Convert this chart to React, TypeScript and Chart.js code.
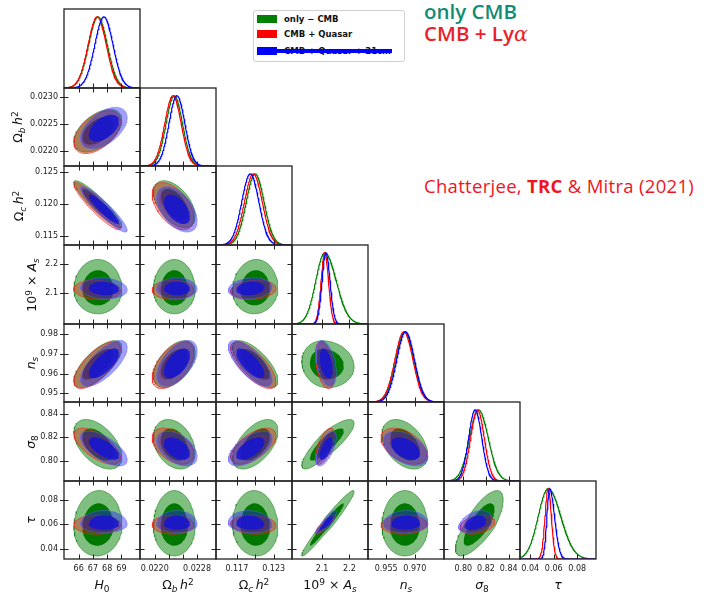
import React, { useEffect, useRef } from 'react';
import { Chart, registerables } from 'chart.js';

Chart.register(...registerables);

// ---------------- data ----------------
// parameter order: H0, Omega_b h^2, Omega_c h^2, 10^9 A_s, n_s, sigma_8, tau
const AXIS_MIN = [64.97, 0.02172, 0.1136, 1.99, 0.9455, 0.783, 0.0313];
const AXIS_MAX = [70.3, 0.02316, 0.126, 2.268, 0.9853, 0.85, 0.096];

const X_TICKS = [
  [66, 67, 68, 69],
  [0.022, 0.022267, 0.022533, 0.0228],
  [0.117, 0.12, 0.123],
  [2.1, 2.2],
  [0.955, 0.97],
  [0.8, 0.82, 0.84],
  [0.04, 0.06, 0.08],
];
const X_TICK_LABELS = [
  ['66', '67', '68', '69'],
  ['0.0220', '', '', '0.0228'],
  ['0.117', '', '0.123'],
  ['2.1', '2.2'],
  ['0.955', '0.970'],
  ['0.80', '0.82', '0.84'],
  ['0.04', '0.06', '0.08'],
];
const Y_TICKS = [
  [],
  [0.022, 0.0225, 0.023],
  [0.115, 0.12, 0.125],
  [2.1, 2.2],
  [0.95, 0.96, 0.97, 0.98],
  [0.8, 0.82, 0.84],
  [0.04, 0.06, 0.08],
];
const Y_TICK_LABELS = [
  [],
  ['0.0220', '0.0225', '0.0230'],
  ['0.115', '0.120', '0.125'],
  ['2.1', '2.2'],
  ['0.95', '0.96', '0.97', '0.98'],
  ['0.80', '0.82', '0.84'],
  ['0.04', '0.06', '0.08'],
];

const SERIES_LABELS = ['only \u2212 CMB', 'CMB + Quasar', 'CMB + Quasar + 21cm'];

// peak positions and lower / upper widths of each marginal
const GREEN_MEAN = [67.35, 0.02237, 0.12, 2.11, 0.9648, 0.8135, 0.058];
const GREEN_SIG_LO = [0.66, 0.000155, 0.00145, 0.033, 0.0047, 0.008, 0.0095];
const GREEN_SIG_HI = [0.66, 0.000155, 0.00145, 0.042, 0.0047, 0.0085, 0.0118];

const RED_MEAN = [67.3, 0.022345, 0.1197, 2.11, 0.9643, 0.8125, 0.0598];
const RED_SIG_LO = [0.64, 0.000155, 0.00145, 0.0135, 0.0047, 0.006, 0.0031];
const RED_SIG_HI = [0.64, 0.000155, 0.00145, 0.0135, 0.0047, 0.006, 0.0031];

const BLUE_MEAN = [67.77, 0.02242, 0.1192, 2.114, 0.9652, 0.8105, 0.06];
const BLUE_SIG_LO = [0.64, 0.00015, 0.0014, 0.014, 0.0046, 0.0058, 0.0027];
const BLUE_SIG_HI = [0.64, 0.00015, 0.0014, 0.015, 0.0046, 0.0058, 0.0045];

// the tau marginal panel (green, red, blue): peak and lower / upper widths
const TAU_1D_PEAK = [0.0553, 0.0553, 0.0565];
const TAU_1D_SIG_LO = [0.0085, 0.0027, 0.0023];
const TAU_1D_SIG_HI = [0.0108, 0.0027, 0.0042];

// correlation of each (row param, column param) pair of the lower triangle
const PAIRS = [
  [1, 0], [2, 0], [2, 1], [3, 0], [3, 1], [3, 2], [4, 0], [4, 1], [4, 2], [4, 3],
  [5, 0], [5, 1], [5, 2], [5, 3], [5, 4], [6, 0], [6, 1], [6, 2], [6, 3], [6, 4], [6, 5],
];
const GREEN_CORR = [0.5, -0.92, -0.5, 0.0, 0.0, 0.05, 0.7, 0.5, -0.7, -0.1, -0.5, -0.3, 0.55, 0.85, -0.4, 0.05, 0.0, -0.05, 0.97, 0.0, 0.75];
const RED_CORR = [0.5, -0.92, -0.5, -0.1, 0.0, 0.15, 0.7, 0.55, -0.72, -0.4, -0.65, -0.45, 0.6, 0.65, -0.45, 0.0, 0.0, -0.1, 0.9, 0.05, 0.3];
const BLUE_CORR = [0.5, -0.92, -0.5, -0.1, 0.0, 0.15, 0.7, 0.55, -0.72, -0.4, -0.65, -0.45, 0.6, 0.65, -0.45, 0.0, 0.0, -0.1, 0.88, 0.05, 0.35];

// ---------------- styling ----------------
const SERIES = [
  { mean: GREEN_MEAN, lo: GREEN_SIG_LO, hi: GREEN_SIG_HI, corr: GREEN_CORR, line: 'rgb(0,128,0)', outer: 'rgba(0,128,0,0.5)', inner: 'rgba(0,120,0,1)', edge: 'rgba(0,110,0,0.6)' },
  { mean: RED_MEAN, lo: RED_SIG_LO, hi: RED_SIG_HI, corr: RED_CORR, line: 'rgb(255,0,0)', outer: 'rgba(255,0,0,0.33)', inner: 'rgba(255,0,0,0.2)', edge: 'rgba(235,40,40,0.8)' },
  { mean: BLUE_MEAN, lo: BLUE_SIG_LO, hi: BLUE_SIG_HI, corr: BLUE_CORR, line: 'rgb(0,0,255)', outer: 'rgba(30,30,250,0.42)', inner: 'rgba(20,20,215,0.85)', edge: 'rgba(100,100,255,0.6)' },
];
const K_INNER = 1.65;
const K_OUTER = 2.55;

const PANEL_X0 = 64.3;
const PANEL_W = 75.95;
const PANEL_Y0 = 9.3;
const PANEL_H = 78.55;
const PAD = 3;
const BOTTOM_LABEL_SPACE = 20;
const TICK_FONT = { family: 'DejaVu Sans', size: 8 };

const colEdge = (c: number) => Math.round(PANEL_X0 + c * PANEL_W);
const rowEdge = (r: number) => Math.round(PANEL_Y0 + r * PANEL_H);

function contour(sx: number, sy: number, s: any, rho: number, k: number) {
  const pts: { x: number; y: number }[] = [];
  const q = Math.sqrt(1 - rho * rho);
  const n = 90;
  for (let i = 0; i <= n; i++) {
    const t = (i / n) * Math.PI * 2;
    const u = Math.cos(t);
    const v = rho * u + q * Math.sin(t);
    pts.push({
      x: s.mean[sx] + k * u * (u < 0 ? s.lo[sx] : s.hi[sx]),
      y: s.mean[sy] + k * v * (v < 0 ? s.lo[sy] : s.hi[sy]),
    });
  }
  return pts;
}

function marginal(m: number, sl: number, sh: number, lo: number, hi: number) {
  const pts: { x: number; y: number }[] = [];
  const n = 200;
  for (let j = 0; j <= n; j++) {
    const x = lo + ((hi - lo) * j) / n;
    const z = (x - m) / (x < m ? sl : sh);
    pts.push({ x, y: Math.exp(-0.5 * z * z) });
  }
  return pts;
}

type Panel = { r: number; c: number; left: number; top: number; w: number; h: number; padL: number; padB: number };

const PANELS: Panel[] = [];
for (let r = 0; r < 7; r++) {
  for (let c = 0; c <= r; c++) {
    const x0 = colEdge(c), x1 = colEdge(c + 1), y0 = rowEdge(r), y1 = rowEdge(r + 1);
    const padL = c === 0 ? x0 : PAD;
    const padB = r === 6 ? BOTTOM_LABEL_SPACE : PAD;
    PANELS.push({ r, c, left: x0 - padL, top: y0 - PAD, w: x1 - x0 + padL + PAD, h: y1 - y0 + PAD + padB, padL, padB });
  }
}

function decoPlugin(xt: number[], yt: number[], top: boolean, leftOut: boolean) {
  return {
    id: 'deco',
    afterDatasetsDraw(chart: any) {
      const { ctx, chartArea: a } = chart;
      const sx = chart.scales.x, sy = chart.scales.y;
      const L = 4.5;
      ctx.save();
      ctx.strokeStyle = '#222';
      ctx.lineWidth = 1;
      ctx.beginPath();
      xt.forEach((v) => {
        const p = Math.round(sx.getPixelForValue(v)) + 0.5;
        ctx.moveTo(p, a.bottom);
        ctx.lineTo(p, a.bottom - L);
        if (top) {
          ctx.moveTo(p, a.top);
          ctx.lineTo(p, a.top + L);
        }
      });
      yt.forEach((v) => {
        const p = Math.round(sy.getPixelForValue(v)) + 0.5;
        ctx.moveTo(a.left - (leftOut ? 4 : 0), p);
        ctx.lineTo(a.left + L, p);
        ctx.moveTo(a.right, p);
        ctx.lineTo(a.right - L, p);
      });
      ctx.stroke();
      ctx.lineWidth = 1.3;
      ctx.strokeRect(a.left, a.top, a.right - a.left, a.bottom - a.top);
      ctx.restore();
    },
  };
}

function buildConfig(p: Panel): any {
  const { r, c } = p;
  const is1D = r === c;
  const datasets: any[] = [];
  const xmin = AXIS_MIN[c], xmax = AXIS_MAX[c];
  let ymin = 0, ymax = 1.11;
  if (is1D) {
    SERIES.forEach((s, k) => {
      const data = c === 6
        ? marginal(TAU_1D_PEAK[k], TAU_1D_SIG_LO[k], TAU_1D_SIG_HI[k], xmin, xmax)
        : marginal(s.mean[c], s.lo[c], s.hi[c], xmin, xmax);
      datasets.push({ data, borderColor: s.line, borderWidth: 1.2, pointRadius: 0, fill: false, tension: 0 });
    });
  } else {
    ymin = AXIS_MIN[r]; ymax = AXIS_MAX[r];
    const idx = PAIRS.findIndex((q) => q[0] === r && q[1] === c);
    SERIES.forEach((s) => {
      const rho = s.corr[idx];
      datasets.push({ data: contour(c, r, s, rho, K_OUTER), borderColor: s.edge, borderWidth: 0.8, backgroundColor: s.outer, pointRadius: 0, fill: 'shape', tension: 0 });
      datasets.push({ data: contour(c, r, s, rho, K_INNER), borderColor: 'rgba(0,0,0,0)', borderWidth: 0, backgroundColor: s.inner, pointRadius: 0, fill: 'shape', tension: 0 });
    });
  }
  // Chart.js paints the first dataset on top, so list them last-drawn first
  datasets.reverse();
  const xt = X_TICKS[c];
  const yt = is1D ? [] : Y_TICKS[r];
  const showX = r === 6;
  const showY = c === 0 && !is1D;
  return {
    type: 'line',
    data: { datasets },
    options: {
      responsive: false,
      animation: false,
      devicePixelRatio: 1,
      events: [],
      layout: { padding: { top: PAD, right: PAD, left: 0, bottom: 0 }, autoPadding: false },
      plugins: { legend: { display: false }, tooltip: { enabled: false } },
      scales: {
        x: {
          type: 'linear', min: xmin, max: xmax, position: 'bottom',
          grid: { display: false, drawTicks: false }, border: { display: false },
          ticks: { display: showX, padding: 5, font: TICK_FONT, color: '#1a1a1a', autoSkip: false, maxRotation: 0,
            callback: (_v: any, i: number) => X_TICK_LABELS[c][i] },
          afterBuildTicks: (s: any) => { s.ticks = xt.map((v) => ({ value: v })); },
          afterFit: (s: any) => { s.height = p.padB; s.paddingLeft = 0; s.paddingRight = 0; },
        },
        y: {
          type: 'linear', min: ymin, max: ymax, position: 'left',
          grid: { display: false, drawTicks: false }, border: { display: false },
          ticks: { display: showY, padding: 6, font: TICK_FONT, color: '#1a1a1a', autoSkip: false,
            callback: (_v: any, i: number) => Y_TICK_LABELS[r][i] },
          afterBuildTicks: (s: any) => { s.ticks = (is1D ? [] : yt).map((v) => ({ value: v })); },
          afterFit: (s: any) => { s.width = p.padL; s.paddingTop = 0; s.paddingBottom = 0; },
        },
      },
    },
    plugins: [decoPlugin(xt, yt, !is1D, c === 0 && !is1D)],
  };
}

// ---------------- text helpers ----------------
const sub = (t: React.ReactNode) => <span style={{ fontSize: '0.72em', position: 'relative', top: '0.32em' }}>{t}</span>;
const sup = (t: React.ReactNode) => <span style={{ fontSize: '0.72em', position: 'relative', top: '-0.45em' }}>{t}</span>;
const it = (t: string) => <i>{t}</i>;
const THIN = '\u2009';

const AXIS_TITLES: React.ReactNode[] = [
  <>{it('H')}{sub('0')}</>,
  <>Ω{sub(it('b'))}{THIN}{it('h')}{sup('2')}</>,
  <>Ω{sub(it('c'))}{THIN}{it('h')}{sup('2')}</>,
  <>10{sup('9')} × {it('A')}{sub(it('s'))}</>,
  <>{it('n')}{sub(it('s'))}</>,
  <>{it('σ')}{sub('8')}</>,
  <>{it('τ')}</>,
];
const Y_TITLE_X = [0, 18, 19, 31.5, 30.5, 30.5, 30.5];

export default function App() {
  const refs = useRef<(HTMLCanvasElement | null)[]>([]);
  useEffect(() => {
    const charts: Chart[] = [];
    PANELS.forEach((p, i) => {
      const cv = refs.current[i];
      if (cv) charts.push(new Chart(cv, buildConfig(p)));
    });
    return () => charts.forEach((ch) => ch.destroy());
  }, []);

  const titleFont = { fontFamily: 'DejaVu Sans', fontSize: 12.5, lineHeight: '16px', color: '#111' };
  const legendRows = [18.5, 34.2, 51.2];
  const legendColors = ['rgb(0,128,0)', 'rgb(255,0,0)', 'rgb(0,0,255)'];

  return (
    <div style={{ position: 'absolute', left: 0, top: 0, width: 704, height: 594, background: '#fff', overflow: 'hidden' }}>
      {PANELS.map((p, i) => (
        <canvas
          key={i}
          ref={(el) => { refs.current[i] = el; }}
          width={p.w}
          height={p.h}
          style={{ position: 'absolute', left: p.left, top: p.top, width: p.w, height: p.h }}
        />
      ))}
      {AXIS_TITLES.map((t, i) => (
        <div key={'x' + i} style={{ ...titleFont, position: 'absolute', left: colEdge(i), width: colEdge(i + 1) - colEdge(i), top: 577, height: 16, textAlign: 'center', whiteSpace: 'nowrap' }}>{t}</div>
      ))}
      {AXIS_TITLES.map((t, i) => i === 0 ? null : (
        <div key={'y' + i} style={{ ...titleFont, position: 'absolute', left: Y_TITLE_X[i] - 50, width: 100, top: (rowEdge(i) + rowEdge(i + 1)) / 2 - 8, height: 16, textAlign: 'center', whiteSpace: 'nowrap', transform: 'rotate(-90deg)' }}>{t}</div>
      ))}
      {/* legend */}
      <div style={{ position: 'absolute', left: 253, top: 10, width: 150, height: 50, border: '1px solid #cfcfcf', borderRadius: 3, background: '#fff' }} />
      {SERIES_LABELS.map((lab, i) => (
        <React.Fragment key={'l' + i}>
          <div style={{ position: 'absolute', left: 257, top: legendRows[i] - 4, width: 20, height: 8, background: legendColors[i] }} />
          <div style={{ position: 'absolute', left: 284, top: legendRows[i] - 6, height: 12, lineHeight: '12px', fontFamily: 'DejaVu Sans', fontWeight: 'bold', fontSize: 8.5, color: '#111', whiteSpace: 'nowrap' }}>{lab}</div>
        </React.Fragment>
      ))}
      <div style={{ position: 'absolute', left: 276, top: legendRows[2] - 2, width: 116, height: 4, background: 'rgb(0,0,255)' }} />
      {/* annotations */}
      <div style={{ position: 'absolute', left: 424, top: 19.5 - 0.888 * 20.5, fontFamily: 'Open Sans', fontWeight: 600, fontSize: 20.5, lineHeight: '20.5px', color: 'rgb(18,140,116)', whiteSpace: 'nowrap' }}>only CMB</div>
      <div style={{ position: 'absolute', left: 424, top: 41.5 - 0.888 * 20.5, fontFamily: 'Open Sans', fontWeight: 600, fontSize: 20.5, lineHeight: '20.5px', color: 'rgb(236,30,40)', whiteSpace: 'nowrap' }}>CMB + Ly<i style={{ fontFamily: 'DejaVu Serif', fontWeight: 400 }}>α</i></div>
      <div style={{ position: 'absolute', left: 424, top: 193.5 - 0.888 * 18.5, fontFamily: 'Open Sans', fontWeight: 400, fontSize: 18.5, lineHeight: '18.5px', letterSpacing: 0.3, color: 'rgb(240,20,30)', whiteSpace: 'nowrap' }}>Chatterjee, <b>TRC</b> &amp; Mitra (2021)</div>
    </div>
  );
}
